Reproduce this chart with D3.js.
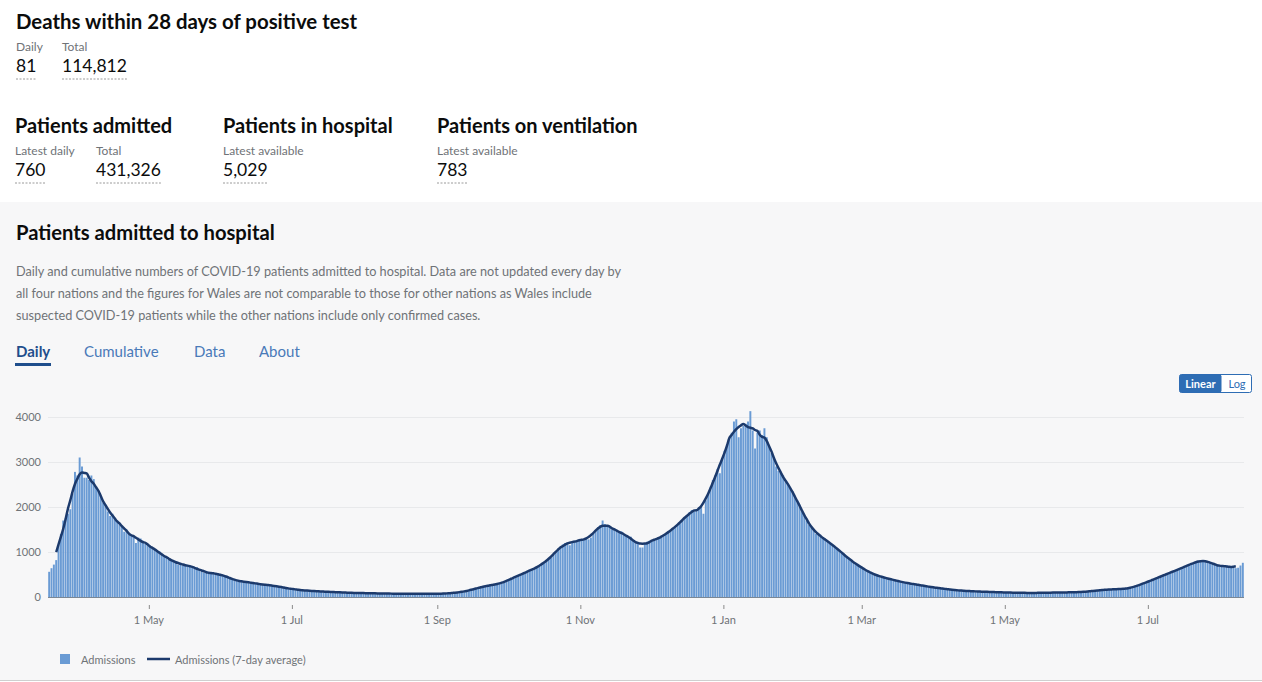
<!DOCTYPE html>
<html>
<head>
<meta charset="utf-8">
<script src="https://cdn.jsdelivr.net/npm/d3@7"></script>
<style>
  body { margin: 0; background: #fff; }
  svg text { font-family: Lato, "Noto Sans", sans-serif; }
</style>
</head>
<body>
<svg id="page"></svg>
<script>
// headline figures
const headTitles = ['Deaths within 28 days of positive test', 'Patients admitted', 'Patients in hospital', 'Patients on ventilation'];
const headLabels = [['Daily', 'Total'], ['Latest daily', 'Total'], ['Latest available'], ['Latest available']];
const headValues = [['81', '114,812'], ['760', '431,326'], ['5,029'], ['783']];

const descLines = [
  'Daily and cumulative numbers of COVID-19 patients admitted to hospital. Data are not updated every day by',
  'all four nations and the figures for Wales are not comparable to those for other nations as Wales include',
  'suspected COVID-19 patients while the other nations include only confirmed cases.'
];
const tabs = ['Daily', 'Cumulative', 'Data', 'About'];
const legendLabels = ['Admissions', 'Admissions (7-day average)'];
const yTicks = [0, 1000, 2000, 3000, 4000];

// daily admissions, one array per month (first day: 19 Mar 2020)
const mar2020 = [560, 640, 720, 820, 1150, 1400, 1700, 1750, 1850, 1950, 2300, 2780, 2700];
const apr2020 = [3100, 2900, 2650, 2650, 2600, 2700, 2620, 2450, 2350, 2250, 2100, 2050, 1900, 1800, 1850,
  1750, 1700, 1620, 1580, 1450, 1500, 1420, 1380, 1340, 1200, 1320, 1300, 1250, 1180, 1150];
const may2020 = [1140, 1100, 1050, 1000, 1020, 950, 900, 870, 840, 800, 820, 780, 720, 750, 700, 710,
  690, 700, 680, 650, 660, 600, 560, 540, 570, 550, 530, 510, 520, 500, 510];
const jun2020 = [490, 470, 450, 420, 390, 375, 365, 355, 345, 338, 330, 335, 320, 310, 300, 290, 285, 280,
  270, 265, 260, 255, 250, 245, 230, 215, 205, 200, 195, 190];
const jul2020 = [170, 165, 160, 155, 150, 145, 140, 138, 135, 130, 128, 125, 122, 120, 118, 115, 112, 110,
  108, 105, 103, 100, 98, 96, 95, 93, 92, 90, 88, 87, 86];
const aug2020 = [85, 84, 83, 82, 80, 80, 79, 78, 77, 76, 76, 75, 74, 74, 73, 73, 72, 72, 71, 71, 70, 70,
  70, 69, 70, 70, 70, 71, 71, 72, 72];
const sep2020 = [68, 72, 75, 80, 78, 82, 90, 95, 100, 110, 115, 120, 128, 140, 160, 175, 190, 205, 215,
  230, 240, 250, 262, 270, 278, 285, 290, 300, 330, 360];
const oct2020 = [390, 410, 430, 450, 470, 490, 520, 550, 570, 590, 610, 640, 660, 680, 720, 760, 800, 850,
  880, 940, 1000, 1060, 1120, 1170, 1200, 1210, 1150, 1230, 1250, 1240, 1260];
const nov2020 = [1270, 1290, 1300, 1280, 1320, 1400, 1480, 1550, 1600, 1700, 1620, 1560, 1560, 1500, 1530,
  1480, 1430, 1460, 1380, 1350, 1320, 1340, 1260, 1230, 1200, 1100, 1100, 1190, 1230, 1250];
const dec2020 = [1240, 1260, 1280, 1310, 1330, 1360, 1400, 1440, 1480, 1520, 1560, 1600, 1640, 1700, 1760,
  1820, 1880, 1930, 1900, 1950, 1980, 2000, 1850, 2150, 2300, 2450, 2600, 2700, 2850, 2750, 3050];
const jan2021 = [3250, 3400, 3500, 3650, 3900, 3950, 3550, 3750, 3800, 3850, 3900, 4130, 3700, 3300, 3650,
  3700, 3600, 3750, 3550, 3350, 3200, 3100, 2900, 2800, 2750, 2700, 2600, 2500, 2400, 2350, 2250];
const feb2021 = [2150, 2050, 1900, 1800, 1700, 1600, 1550, 1500, 1400, 1380, 1350, 1300, 1280, 1250, 1200,
  1150, 1120, 1080, 1020, 980, 950, 900, 850, 800, 770, 730, 700, 670];
const mar2021 = [650, 600, 560, 540, 520, 500, 480, 460, 445, 430, 420, 410, 395, 380, 365, 350, 340, 330,
  320, 310, 300, 290, 280, 275, 265, 260, 250, 240, 230, 220, 210];
const apr2021 = [205, 200, 195, 190, 180, 175, 165, 160, 155, 150, 145, 140, 138, 135, 132, 130, 128, 125,
  122, 120, 118, 116, 114, 112, 110, 108, 106, 105, 104, 103];
const may2021 = [102, 100, 98, 96, 95, 94, 93, 92, 92, 91, 90, 90, 90, 91, 92, 93, 94, 95, 96, 97, 98, 99,
  100, 100, 100, 101, 102, 103, 104, 106, 108];
const jun2021 = [105, 110, 115, 120, 125, 128, 132, 138, 145, 150, 155, 160, 165, 168, 170, 172, 174, 176,
  178, 180, 182, 190, 200, 215, 230, 250, 270, 290, 310, 330];
const jul2021 = [350, 370, 390, 410, 430, 460, 480, 500, 520, 540, 560, 580, 600, 625, 650, 670, 690, 710,
  730, 760, 780, 800, 810, 820, 810, 800, 770, 740, 710, 700, 690];
const aug2021 = [680, 660, 700, 690, 680, 650, 640, 650, 700, 760];

const admissions = [].concat(mar2020, apr2020, may2020, jun2020, jul2020, aug2020, sep2020, oct2020,
  nov2020, dec2020, jan2021, feb2021, mar2021, apr2021, may2021, jun2021, jul2021, aug2021);
const startDate = new Date(2020, 2, 19);

const daily = admissions.map((v, i) => ({ date: d3.timeDay.offset(startDate, i), value: v }));
// centred 7-day average
const rolling = daily
  .map((d, i) => (i >= 3 && i < daily.length - 3)
    ? { date: d.date, value: d3.mean(admissions.slice(i - 3, i + 4)) } : null)
  .filter(d => d);

const width = 1262;
const height = 682;
const barColor = '#6a9bd4';
const lineColor = '#1c3a6c';
const greyText = '#6f7377';

const svg = d3.select('#page')
  .attr('width', width)
  .attr('height', height);

// ---- headline section ----
const head = svg.append('g');

function statBlock(x, y, title, labels, values, titleSize, cols) {
  head.append('text')
    .attr('x', x).attr('y', y)
    .style('font-size', titleSize + 'px')
    .style('font-weight', 700)
    .style('fill', '#0b0c0c')
    .text(title);
  labels.forEach((lab, i) => {
    const cx = x + cols[i];
    head.append('text')
      .attr('x', cx).attr('y', y + 22)
      .style('font-size', '12px')
      .style('fill', greyText)
      .text(lab);
    const v = head.append('text')
      .attr('x', cx).attr('y', y + 43)
      .style('font-size', '17.5px')
      .style('fill', '#0b0c0c')
      .text(values[i]);
    const w = v.node().getComputedTextLength();
    head.append('line')
      .attr('x1', cx).attr('x2', cx + w)
      .attr('y1', y + 50).attr('y2', y + 50)
      .style('stroke', '#9a9a9a')
      .style('stroke-dasharray', '2,1.5');
  });
}

statBlock(16, 29, headTitles[0], headLabels[0], headValues[0], 20.4, [0, 46]);
statBlock(15, 133, headTitles[1], headLabels[1], headValues[1], 20, [0, 81]);
statBlock(223, 133, headTitles[2], headLabels[2], headValues[2], 20, [0]);
statBlock(437, 133, headTitles[3], headLabels[3], headValues[3], 20, [0]);

// ---- chart card ----
svg.append('rect')
  .attr('x', 0).attr('y', 202)
  .attr('width', width).attr('height', 478)
  .style('fill', '#f7f7f8');
svg.append('line')
  .attr('x1', 0).attr('x2', width)
  .attr('y1', 680.5).attr('y2', 680.5)
  .style('stroke', '#cfcfcf');

svg.append('text')
  .attr('x', 16).attr('y', 240)
  .style('font-size', '20.2px')
  .style('font-weight', 700)
  .style('fill', '#0b0c0c')
  .text('Patients admitted to hospital');

svg.append('g').selectAll('text')
  .data(descLines)
  .join('text')
  .attr('x', 16)
  .attr('y', (d, i) => 276 + i * 22)
  .style('font-size', '12.7px')
  .style('fill', greyText)
  .text(d => d);

// tabs
const tabX = [16, 84, 194, 259];
const tabG = svg.append('g');
tabG.selectAll('text')
  .data(tabs)
  .join('text')
  .attr('x', (d, i) => tabX[i])
  .attr('y', 357)
  .style('font-size', '15px')
  .style('font-weight', (d, i) => i === 0 ? 700 : 400)
  .style('fill', (d, i) => i === 0 ? '#1f4e8c' : '#4a7ab8')
  .text(d => d);
tabG.append('rect')
  .attr('x', 15).attr('y', 363)
  .attr('width', 36).attr('height', 3)
  .style('fill', '#1f4e8c');

// linear / log toggle
const tg = svg.append('g').attr('transform', 'translate(1179,374)');
tg.append('rect')
  .attr('x', 0.5).attr('y', 0.5).attr('width', 72).attr('height', 18).attr('rx', 2)
  .style('fill', '#fff').style('stroke', '#2e6db4');
tg.append('rect')
  .attr('x', 0.5).attr('y', 0.5).attr('width', 42).attr('height', 18).attr('rx', 2)
  .style('fill', '#2e6db4');
tg.append('text').attr('x', 21.5).attr('y', 13.5).attr('text-anchor', 'middle')
  .style('font-size', '11px').style('font-weight', 700).style('fill', '#fff').text('Linear');
tg.append('text').attr('x', 58).attr('y', 13.5).attr('text-anchor', 'middle')
  .style('font-size', '11px').style('fill', '#2e6db4').text('Log');

// ---- plot ----
const xScale = d3.scaleTime()
  .domain([startDate, d3.timeDay.offset(startDate, admissions.length)])
  .range([48, 1244]);
const yScale = d3.scaleLinear()
  .domain([0, 4000])
  .range([597, 417]);
const step = xScale(d3.timeDay.offset(startDate, 1)) - xScale(startDate);

const plot = svg.append('g');

plot.append('g')
  .selectAll('line')
  .data(yTicks.slice(1))
  .join('line')
  .attr('x1', xScale.range()[0]).attr('x2', xScale.range()[1])
  .attr('y1', d => yScale(d) + 0.5).attr('y2', d => yScale(d) + 0.5)
  .style('stroke', '#e8e9eb');

plot.append('g')
  .selectAll('text')
  .data(yTicks)
  .join('text')
  .attr('x', 41)
  .attr('y', d => yScale(d) + 4)
  .attr('text-anchor', 'end')
  .style('font-size', '11px')
  .style('fill', greyText)
  .text(d => d);

plot.append('g')
  .selectAll('rect')
  .data(daily)
  .join('rect')
  .attr('x', d => xScale(d.date) + 0.2)
  .attr('y', d => yScale(d.value))
  .attr('width', step - 0.4)
  .attr('height', d => yScale(0) - yScale(d.value))
  .style('fill', barColor);

plot.append('line')
  .attr('x1', xScale.range()[0]).attr('x2', xScale.range()[1])
  .attr('y1', yScale(0) + 0.5).attr('y2', yScale(0) + 0.5)
  .style('stroke', '#7b8794');

const line = d3.line()
  .x(d => xScale(d.date) + step / 2)
  .y(d => yScale(d.value))
  .curve(d3.curveMonotoneX);

plot.append('path')
  .datum(rolling)
  .attr('d', line)
  .style('fill', 'none')
  .style('stroke', lineColor)
  .style('stroke-width', 2.5)
  .style('stroke-linejoin', 'round');

// x axis ticks
const xTicks = xScale.ticks(d3.timeMonth.every(2));
const fmt = d3.timeFormat('%-d %b');
const xa = plot.append('g');
xa.selectAll('line')
  .data(xTicks)
  .join('line')
  .attr('x1', d => xScale(d) + 0.5).attr('x2', d => xScale(d) + 0.5)
  .attr('y1', 605).attr('y2', 609)
  .style('stroke', '#8a8a8a');
xa.selectAll('text')
  .data(xTicks)
  .join('text')
  .attr('x', d => xScale(d))
  .attr('y', 624)
  .attr('text-anchor', 'middle')
  .style('font-size', '11px')
  .style('fill', greyText)
  .text(d => fmt(d));

// legend
const lg = svg.append('g').attr('transform', 'translate(60,654)');
lg.append('rect').attr('x', 0).attr('y', 0).attr('width', 10).attr('height', 10).style('fill', barColor);
lg.append('text').attr('x', 21).attr('y', 9.5)
  .style('font-size', '11px').style('fill', greyText).text(legendLabels[0]);
lg.append('line').attr('x1', 87).attr('x2', 110).attr('y1', 5).attr('y2', 5)
  .style('stroke', lineColor).style('stroke-width', 2.5);
lg.append('text').attr('x', 115).attr('y', 9.5)
  .style('font-size', '11px').style('fill', greyText).text(legendLabels[1]);
</script>
</body>
</html>
